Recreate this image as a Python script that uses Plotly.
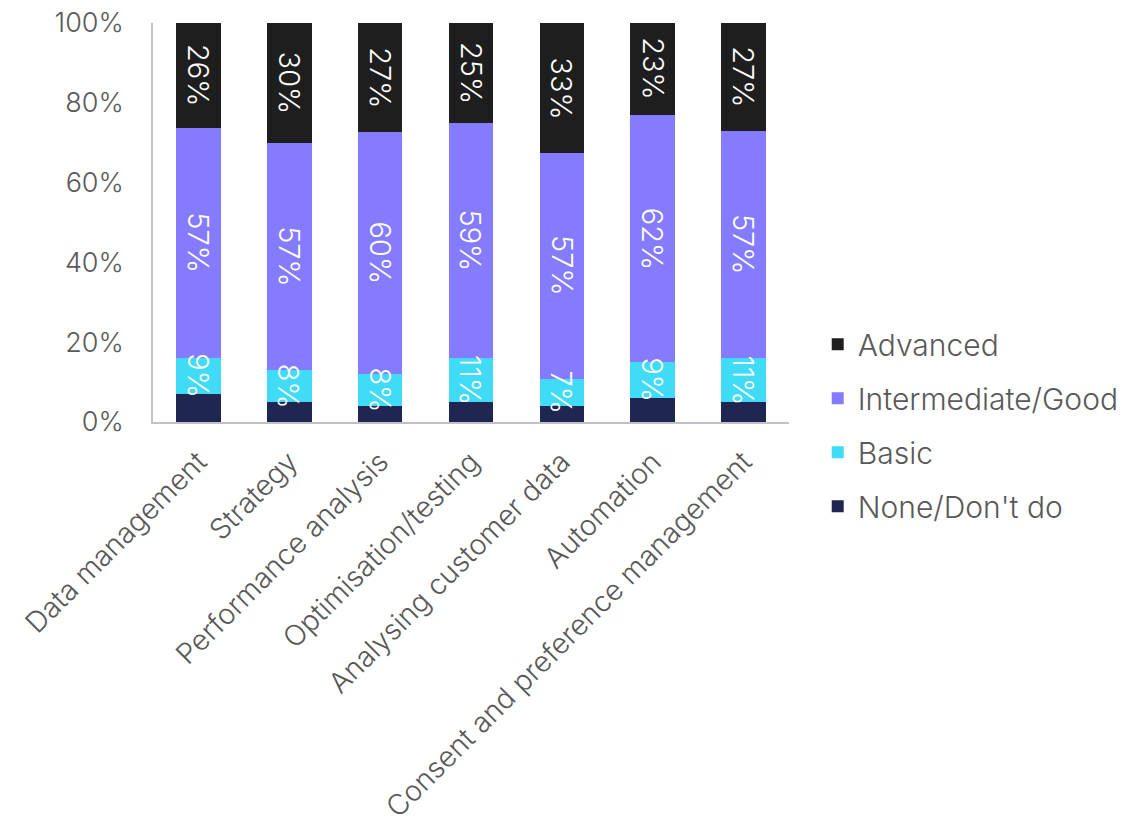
import plotly.graph_objects as go

# Capability areas and maturity shares (%)
categories = [
    "Data management",
    "Strategy",
    "Performance analysis",
    "Optimisation/testing",
    "Analysing customer data",
    "Automation",
    "Consent and preference management",
]
none_dont_do = [7, 5, 4, 5, 4, 6, 5]
basic = [9, 8, 8, 11, 7, 9, 11]
intermediate_good = [57, 57, 60, 59, 57, 62, 57]
advanced = [26, 30, 27, 25, 33, 23, 27]
y_ticks = [0, 20, 40, 60, 80, 100]
y_tick_labels = ["0%", "20%", "40%", "60%", "80%", "100%"]

FONT = "Inter"
GREY = "#595959"

# (legend name, values, colour, show value labels, legend rank)
series = [
    ("None/Don't do", none_dont_do, "#1f2651", False, 4),
    ("Basic", basic, "#40dbf6", True, 3),
    ("Intermediate/Good", intermediate_good, "#857bfe", True, 2),
    ("Advanced", advanced, "#1e1e1e", True, 1),
]

fig = go.Figure()
for name, values, color, _, rank in series:
    fig.add_trace(go.Bar(
        x=categories,
        y=values,
        name=name,
        legendgroup=name,
        legendrank=rank,
        marker=dict(color=color, line=dict(width=0)),
        hoverinfo="x+y+name",
    ))

# Segment labels sit on top of every bar so they may spill into the
# neighbouring segment; positions follow the 100%-normalised stack.
totals = [sum(col) for col in zip(*(s[1] for s in series))]
bottoms = [0.0] * len(categories)
annotations = []
for name, values, color, labelled, _ in series:
    for i, v in enumerate(values):
        mid = (bottoms[i] + v / 2) / totals[i] * 100
        if labelled:
            annotations.append(dict(
                x=categories[i], y=mid, xref="x", yref="y",
                text=f"{v}%", showarrow=False, textangle=90,
                font=dict(family=FONT, size=29, color="white", weight=300),
            ))
        bottoms[i] += v

fig.update_layout(
    barmode="stack",
    barnorm="percent",
    bargap=0.51,
    width=1131,
    height=834,
    margin=dict(l=153, r=342, t=23, b=412),
    paper_bgcolor="white",
    plot_bgcolor="white",
    font=dict(family=FONT, color=GREY, size=27, weight=300),
    annotations=annotations,
    showlegend=True,
    legend=dict(
        traceorder="grouped",
        tracegroupgap=12,
        xref="container",
        yref="container",
        x=0.723,
        xanchor="left",
        y=0.49,
        yanchor="middle",
        font=dict(family=FONT, size=30, color=GREY, weight=300),
        itemwidth=30,
    ),
    xaxis=dict(
        tickangle=-45,
        showline=True,
        linecolor="#bfc3c7",
        linewidth=1.5,
        ticks="",
        showgrid=False,
        automargin=False,
        ticklabelstandoff=10,
        tickfont=dict(family=FONT, size=28.5, color=GREY, weight=300),
    ),
    yaxis=dict(
        range=[0, 100],
        tickvals=y_ticks,
        ticktext=y_tick_labels,
        showline=True,
        linecolor="#bfc3c7",
        linewidth=1.5,
        ticks="",
        showgrid=False,
        zeroline=False,
        automargin=False,
        ticklabelstandoff=22,
        tickfont=dict(family=FONT, size=27, color=GREY, weight=300),
    ),
)

fig.write_html("out.html")
